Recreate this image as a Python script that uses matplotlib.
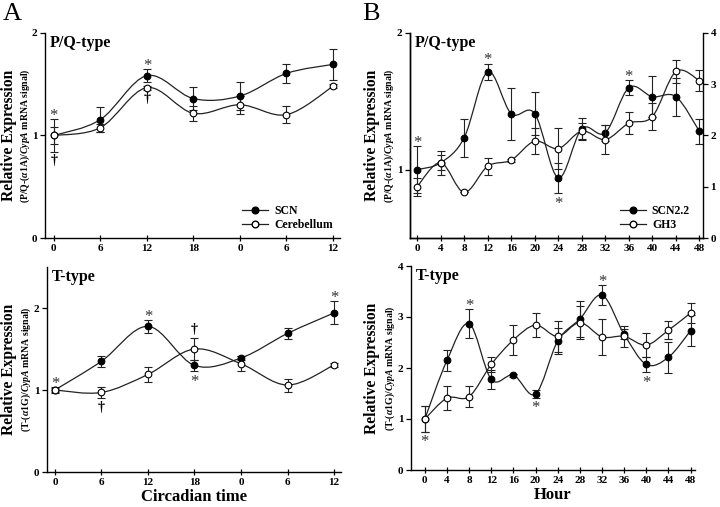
import numpy as np
import matplotlib
matplotlib.use('Agg')
import matplotlib.pyplot as plt
from matplotlib.path import Path
from matplotlib.patches import PathPatch
from matplotlib.lines import Line2D

plt.rcParams['font.family'] = ['Liberation Serif', 'DejaVu Serif']
plt.rcParams['font.weight'] = 'bold'
plt.rcParams['mathtext.fontset'] = 'custom'
plt.rcParams['mathtext.rm'] = 'Liberation Serif:bold'
plt.rcParams['mathtext.it'] = 'Liberation Serif:italic:bold'
plt.rcParams['mathtext.bf'] = 'Liberation Serif:bold'
plt.rcParams['axes.linewidth'] = 1.0

# ---------------- Data ----------------
# Panel A (circadian time)
a_x = [0, 1, 2, 3, 4, 5, 6]
a_ticklabels = ['0', '6', '12', '18', '0', '6', '12']

a_pq_scn = [1.00, 1.155, 1.584, 1.36, 1.385, 1.606, 1.694]
a_pq_scn_err = [0.16, 0.12, 0.06, 0.11, 0.14, 0.09, 0.15]
a_pq_cer = [1.00, 1.076, 1.467, 1.216, 1.30, 1.203, 1.48]
a_pq_cer_err = [0.08, 0.04, 0.02, 0.07, 0.09, 0.08, 0.02]

a_t_scn = [1.00, 1.35, 1.776, 1.30, 1.39, 1.69, 1.94]
a_t_scn_err = [0.04, 0.07, 0.08, 0.07, 0.03, 0.07, 0.14]
a_t_cer = [1.00, 0.97, 1.19, 1.50, 1.32, 1.06, 1.305]
a_t_cer_err = [0.03, 0.07, 0.09, 0.13, 0.09, 0.08, 0.02]

# Panel B (hour)
b_x = [0, 4, 8, 12, 16, 20, 24, 28, 32, 36, 40, 44, 48]

b_pq_scn = [1.00, 1.05, 1.233, 1.716, 1.41, 1.41, 0.94, 1.30, 1.27, 1.60, 1.534, 1.534, 1.28]
b_pq_scn_err = [0.17, 0.09, 0.14, 0.06, 0.19, 0.155, 0.11, 0.08, 0.06, 0.055, 0.15, 0.14, 0.09]
b_pq_gh3 = [1.00, 1.47, 0.89, 1.40, 1.52, 1.89, 1.745, 2.085, 1.92, 2.24, 2.37, 3.25, 3.07]
b_pq_gh3_err = [0.18, 0.15, 0.0, 0.17, 0.03, 0.25, 0.40, 0.15, 0.29, 0.21, 0.26, 0.22, 0.20]

b_t_scn = [1.00, 2.15, 2.87, 1.775, 1.86, 1.49, 2.53, 2.96, 3.43, 2.66, 2.07, 2.21, 2.73]
b_t_scn_err = [0.25, 0.21, 0.28, 0.18, 0.03, 0.07, 0.25, 0.36, 0.20, 0.10, 0.15, 0.30, 0.30]
b_t_gh3 = [1.00, 1.41, 1.44, 2.07, 2.55, 2.84, 2.62, 2.89, 2.61, 2.62, 2.45, 2.74, 3.08]
b_t_gh3_err = [0.25, 0.23, 0.21, 0.14, 0.29, 0.24, 0.30, 0.33, 0.36, 0.20, 0.24, 0.18, 0.19]

# significance marks: (point index, side, symbol)
a_pq_marks = [(0, 'up', '*'), (0, 'down', '\u2020'), (2, 'up', '*'), (2, 'down', '\u2020')]
a_t_marks = [(0, 'up', '*'), (1, 'down', '\u2020'), (2, 'up', '*'), (3, 'up', '\u2020'),
             (3, 'down', '*'), (6, 'up', '*')]
b_pq_marks = [(0, 'up', '*'), (3, 'up', '*'), (6, 'down', '*'), (9, 'up', '*')]
b_t_marks = [(0, 'down', '*'), (2, 'up', '*'), (5, 'down', '*'), (8, 'up', '*'), (10, 'down', '*')]

# ---------------- Helpers ----------------
LINE_COL = '#222222'


def smooth_path(x, y):
    P = np.column_stack([np.asarray(x, float), np.asarray(y, float)])
    n = len(P)
    verts = [P[0]]
    codes = [Path.MOVETO]
    for i in range(n - 1):
        p0 = P[i - 1] if i > 0 else P[i]
        p1 = P[i]
        p2 = P[i + 1]
        p3 = P[i + 2] if i + 2 < n else P[i + 1]
        verts += [p1 + (p2 - p0) / 6.0, p2 - (p3 - p1) / 6.0, p2]
        codes += [Path.CURVE4] * 3
    return Path(verts, codes)


def draw_series(ax, x, y, err, filled):
    ax.add_patch(PathPatch(smooth_path(x, y), fill=False, edgecolor=LINE_COL,
                           lw=0.9, zorder=2))
    ax.errorbar(x, y, yerr=err, fmt='none', ecolor='#222222', elinewidth=0.8,
                capsize=2.6, capthick=0.8, zorder=3)
    ax.plot(x, y, 'o', ms=4.8, mfc='black' if filled else 'white',
            mec='black', mew=0.8, zorder=4)


def draw_marks(ax, x, series, marks):
    for idx, side, sym in marks:
        if side == 'up':
            anchor = max(s[idx] + e[idx] for s, e in series)
        else:
            anchor = min(s[idx] - e[idx] for s, e in series)
        if sym == '*':
            gc, dist = 5.6, 5.0
        else:
            gc, dist = 2.6, 6.3
        off = (dist - gc) if side == 'up' else (-dist - gc)
        ax.annotate(sym, xy=(x[idx], anchor), xytext=(0, off),
                    textcoords='offset points', ha='center', va='baseline',
                    fontsize=12 if sym == '*' else 10,
                    fontweight='normal' if sym == '*' else 'bold',
                    color='#333333' if sym == '*' else 'black')


def style_axes(ax, right=False):
    ax.spines['top'].set_visible(False)
    ax.spines['right'].set_visible(right)
    ax.tick_params(axis='x', direction='inout', length=5, width=0.9,
                   labelsize=8, pad=2)
    ax.tick_params(axis='y', direction='out', length=3.5, width=0.9,
                   labelsize=8, pad=2)


def ylabel_texts(fig, xmain, xsub, yc, sub):
    fig.text(xmain, yc, 'Relative Expression', rotation=90, ha='center',
             va='center', fontsize=11.2, fontweight='bold')
    fig.text(xsub, yc, sub, rotation=90, ha='center', va='center',
             fontsize=7, fontweight='bold')


W, H = 720.0, 507.0
fig = plt.figure(figsize=(7.2, 5.07), dpi=100)


def axpos(l, r, t, b):
    return [l / W, (H - b) / H, (r - l) / W, (b - t) / H]


# ---------------- Panel A top ----------------
ax1 = fig.add_axes(axpos(45, 340, 33, 238))
draw_series(ax1, a_x, a_pq_scn, a_pq_scn_err, True)
draw_series(ax1, a_x, a_pq_cer, a_pq_cer_err, False)
draw_marks(ax1, a_x, [(a_pq_scn, a_pq_scn_err), (a_pq_cer, a_pq_cer_err)], a_pq_marks)
ax1.set_xlim(-0.19, 6.15)
ax1.set_ylim(0, 2)
ax1.set_yticks([0, 1, 2])
ax1.set_xticks(a_x)
ax1.set_xticklabels(a_ticklabels)
style_axes(ax1)
ax1.text(0.017, 0.951, 'P/Q-type', transform=ax1.transAxes, fontsize=11.5,
         fontweight='bold', va='center', ha='left')
h1 = [Line2D([], [], color=LINE_COL, lw=0.9, marker='o', ms=4.8, mfc='black', mec='black'),
      Line2D([], [], color=LINE_COL, lw=0.9, marker='o', ms=4.8, mfc='white', mec='black')]
ax1.legend(h1, ['SCN', 'Cerebellum'], loc='lower right', frameon=False,
           prop={'size': 8.5, 'weight': 'bold'}, handlelength=2.2,
           handletextpad=0.5, labelspacing=0.15, borderaxespad=0.2,
           bbox_to_anchor=(1.0, 0.0))
ylabel_texts(fig, 9 / W, 25 / W, (H - 135.5) / H,
             r'(P/Q-($\alpha$1A)/$\mathit{CypA}$ mRNA signal)')

# ---------------- Panel A bottom ----------------
ax2 = fig.add_axes(axpos(47, 341, 267, 472))
draw_series(ax2, a_x, a_t_scn, a_t_scn_err, True)
draw_series(ax2, a_x, a_t_cer, a_t_cer_err, False)
draw_marks(ax2, a_x, [(a_t_scn, a_t_scn_err), (a_t_cer, a_t_cer_err)], a_t_marks)
ax2.set_xlim(-0.17, 6.15)
ax2.set_ylim(0, 2.5)
ax2.set_yticks([0, 1, 2])
ax2.set_xticks(a_x)
ax2.set_xticklabels(a_ticklabels)
style_axes(ax2)
ax2.text(0.017, 0.951, 'T-type', transform=ax2.transAxes, fontsize=11.5,
         fontweight='bold', va='center', ha='left')
ax2.set_xlabel('Circadian time', fontsize=12, fontweight='bold', labelpad=1)
ylabel_texts(fig, 9 / W, 26 / W, (H - 369.5) / H,
             r'(T-($\alpha$1G)/$\mathit{CypA}$ mRNA signal)')

# ---------------- Panel B top ----------------
ax3 = fig.add_axes(axpos(410, 703, 33, 238))
ax3r = ax3.twinx()
draw_series(ax3, b_x, b_pq_scn, b_pq_scn_err, True)
draw_series(ax3r, b_x, b_pq_gh3, b_pq_gh3_err, False)
draw_marks(ax3, b_x, [(b_pq_scn, b_pq_scn_err)], b_pq_marks)
ax3.set_xlim(-1.2, 48.6)
ax3.set_ylim(0.5, 2)
ax3.set_yticks([1, 2])
ax3r.set_ylim(0, 4)
ax3r.set_yticks([0, 1, 2, 3, 4])
ax3.set_xticks(b_x)
style_axes(ax3)
ax3r.spines['top'].set_visible(False)
ax3r.tick_params(axis='y', direction='out', length=3.5, width=0.9, labelsize=8, pad=2)
ax3.text(0.017, 0.951, 'P/Q-type', transform=ax3.transAxes, fontsize=11.5,
         fontweight='bold', va='center', ha='left')
h3 = [Line2D([], [], color=LINE_COL, lw=0.9, marker='o', ms=4.8, mfc='black', mec='black'),
      Line2D([], [], color=LINE_COL, lw=0.9, marker='o', ms=4.8, mfc='white', mec='black')]
ax3r.legend(h3, ['SCN2.2', 'GH3'], loc='lower right', frameon=False,
            prop={'size': 8.5, 'weight': 'bold'}, handlelength=2.2,
            handletextpad=0.5, labelspacing=0.15, borderaxespad=0.2,
            bbox_to_anchor=(0.98, 0.0))
ylabel_texts(fig, 372 / W, 389 / W, (H - 135.5) / H,
             r'(P/Q-($\alpha$1A)/$\mathit{CypA}$ mRNA signal)')

# ---------------- Panel B bottom ----------------
ax4 = fig.add_axes(axpos(411, 695, 266, 470))
draw_series(ax4, b_x, b_t_scn, b_t_scn_err, True)
draw_series(ax4, b_x, b_t_gh3, b_t_gh3_err, False)
draw_marks(ax4, b_x, [(b_t_scn, b_t_scn_err), (b_t_gh3, b_t_gh3_err)], b_t_marks)
ax4.set_xlim(-2.5, 48.8)
ax4.set_ylim(0, 4)
ax4.set_yticks([0, 1, 2, 3, 4])
ax4.set_xticks(b_x)
style_axes(ax4)
ax4.text(0.017, 0.951, 'T-type', transform=ax4.transAxes, fontsize=11.5,
         fontweight='bold', va='center', ha='left')
ax4.set_xlabel('Hour', fontsize=12, fontweight='bold', labelpad=1)
ylabel_texts(fig, 372 / W, 390 / W, (H - 368) / H,
             r'(T-($\alpha$1G)/$\mathit{CypA}$ mRNA signal)')

# panel letters
fig.text(3 / W, (H - 3) / H, 'A', fontsize=19, fontweight='normal', va='top', ha='left')
fig.text(362 / W, (H - 3) / H, 'B', fontsize=19, fontweight='normal', va='top', ha='left')

fig.savefig('out.png', dpi=100)
